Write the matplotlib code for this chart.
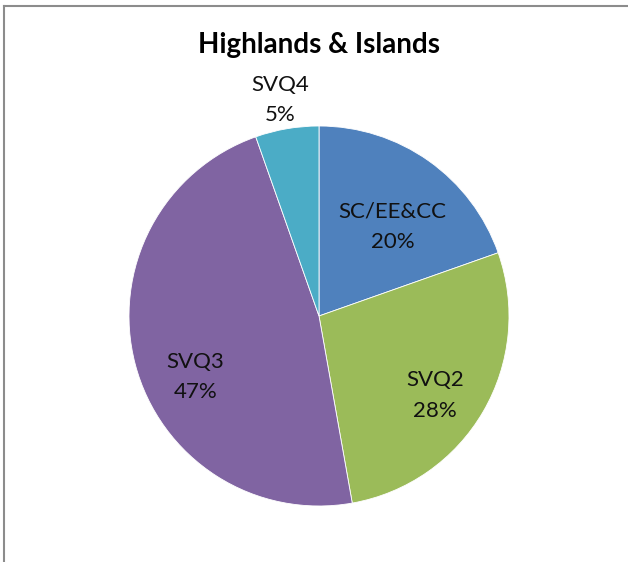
import numpy as np
import matplotlib.pyplot as plt
from matplotlib.lines import Line2D

# data (clockwise from 12 o'clock)
categories = ["SC/EE&CC", "SVQ2", "SVQ3", "SVQ4"]
shares = [19.6, 27.6, 47.4, 5.4]
colors = ["#4F81BD", "#9BBB59", "#8064A2", "#4BACC6"]
title = "Highlands & Islands"

# label placement: radius as fraction of pie radius, angle tweak in degrees
label_r = [0.61, 0.74, 0.725, 1.155]
label_dtheta = [-4.1, -4.1, 11.5, 0.5]

plt.rcParams['font.family'] = ['Lato', 'DejaVu Sans']

W, H = 628, 562
fig = plt.figure(figsize=(W / 100, H / 100), dpi=100)

# pie center ~ (319, 316) px from top-left, radius ~190 px
cx, cy, R = 319, 316, 190
ax = fig.add_axes([(cx - R) / W, (H - cy - R) / H, 2 * R / W, 2 * R / H])

wedges, _ = ax.pie(shares, colors=colors, startangle=90, counterclock=False,
                   radius=1.0, wedgeprops=dict(linewidth=0.6, edgecolor="white"))
ax.set_xlim(-1, 1)
ax.set_ylim(-1, 1)
ax.set_aspect("equal")
ax.axis("off")

total = sum(shares)
for w, name, v, r, dt in zip(wedges, categories, shares, label_r, label_dtheta):
    mid = np.radians((w.theta1 + w.theta2) / 2 + dt)
    ax.text(r * np.cos(mid), r * np.sin(mid), f"{name}\n{v / total * 100:.0f}%",
            ha="center", va="center", fontsize=16, color="#111111",
            linespacing=1.65, clip_on=False)

fig.text(cx / W, 1 - 45 / H, title, ha="center", va="center",
         fontsize=20, fontweight="bold", color="black")

# chart border (top and left edges visible in the crop)
fig.add_artist(Line2D([4 / W, 1], [1 - 6 / H, 1 - 6 / H], transform=fig.transFigure,
                      color="#8c8c8c", linewidth=1.5))
fig.add_artist(Line2D([4 / W, 4 / W], [0, 1 - 6 / H], transform=fig.transFigure,
                      color="#8c8c8c", linewidth=1.5))

fig.savefig("out.png", dpi=100)
